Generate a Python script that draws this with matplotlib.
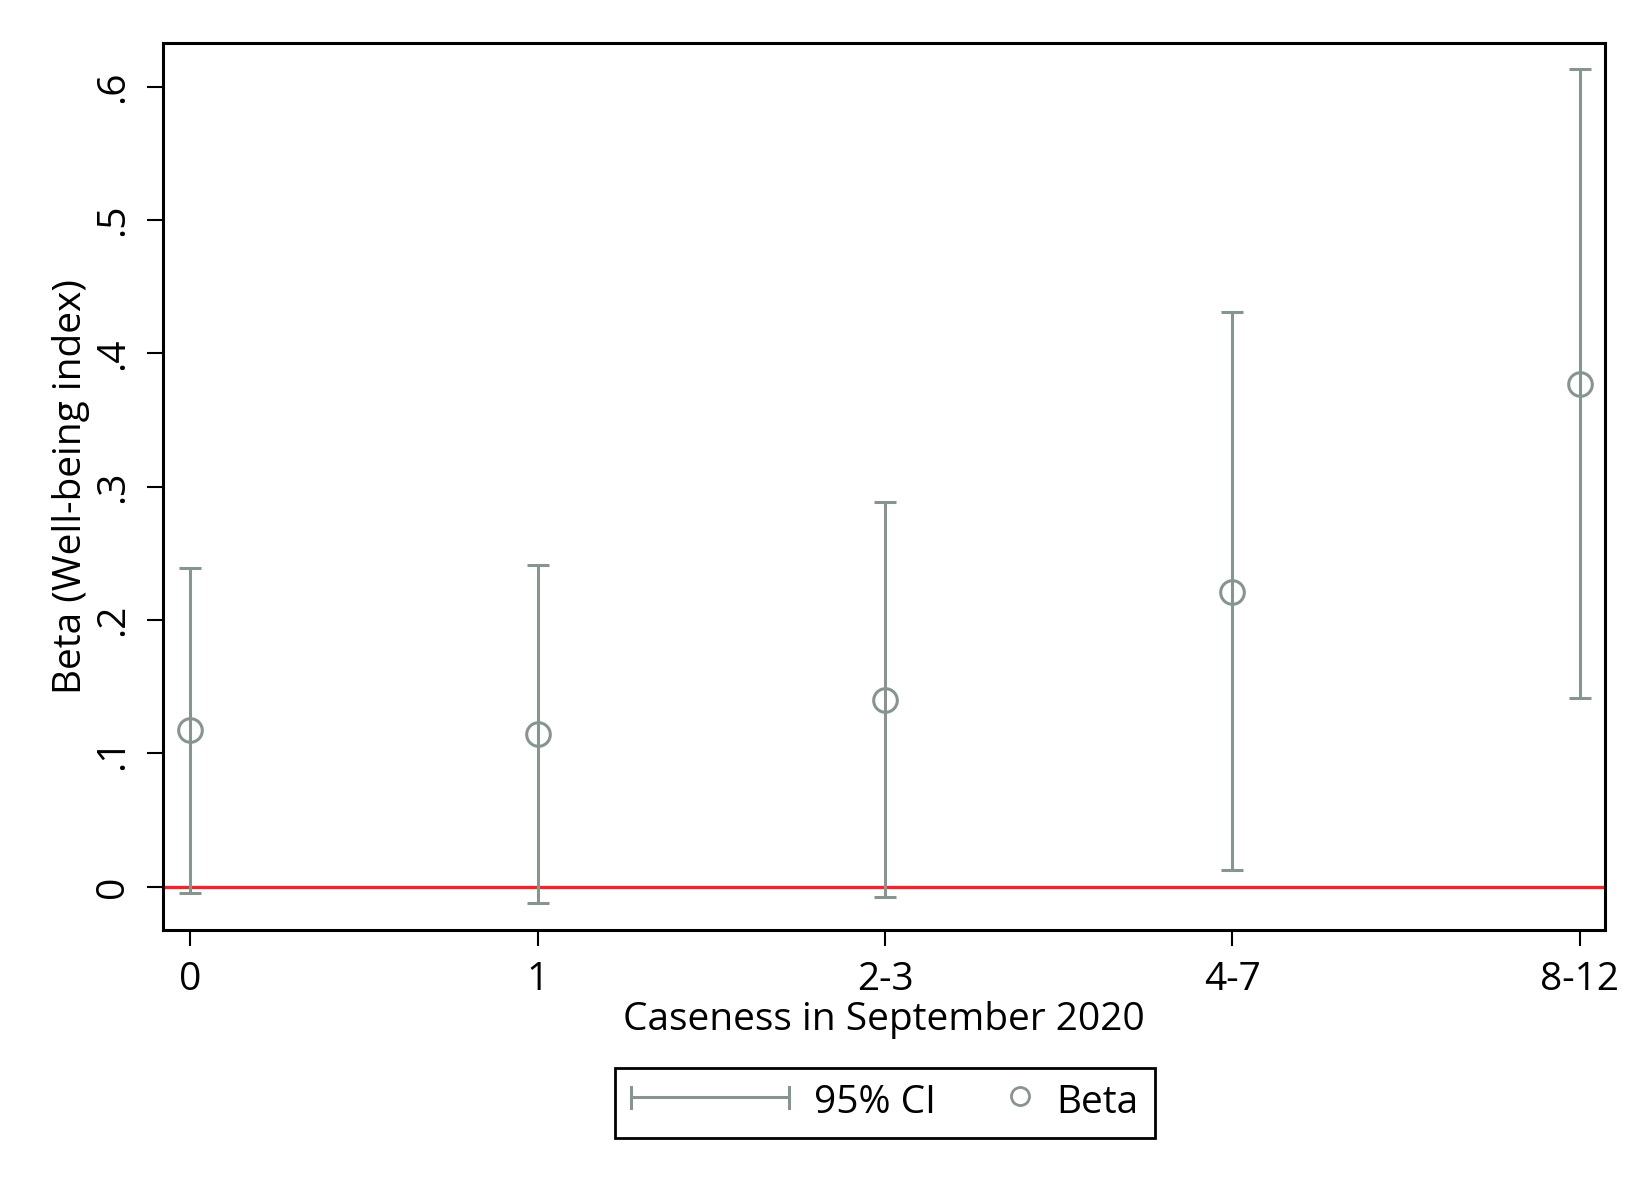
import matplotlib
matplotlib.use("Agg")
import matplotlib.pyplot as plt
from matplotlib.lines import Line2D
from matplotlib.legend_handler import HandlerBase

# ---- data ----
categories = ["0", "1", "2-3", "4-7", "8-12"]
beta = [0.1175, 0.1146, 0.140, 0.2213, 0.377]
ci_low = [-0.0045, -0.0126, -0.008, 0.0126, 0.1415]
ci_high = [0.2393, 0.241, 0.2884, 0.4308, 0.6134]
ytick_vals = [0, 0.1, 0.2, 0.3, 0.4, 0.5, 0.6]
ytick_labels = ["0", ".1", ".2", ".3", ".4", ".5", ".6"]

CI_COLOR = "#87958f"
RED = "#f0242a"
FS = 28

plt.rcParams['font.family'] = ['Open Sans', 'DejaVu Sans']

fig = plt.figure(figsize=(16.5, 12), dpi=100)
ax = fig.add_axes([0.0988, 0.225, 0.9727 - 0.0988, 0.9638 - 0.225])

x = list(range(len(categories)))
yerr = [[b - l for b, l in zip(beta, ci_low)], [h - b for b, h in zip(beta, ci_high)]]

ax.axhline(0, color=RED, lw=2.4, zorder=1)
ax.errorbar(x, beta, yerr=yerr, fmt='o', mfc='none', mec=CI_COLOR, ms=17, mew=2.2,
            ecolor=CI_COLOR, elinewidth=2.2, capsize=8, capthick=2.2, zorder=3)

ax.set_xlim(-0.078, 4.072)
ax.set_ylim(-0.0325, 0.6326)
ax.set_xticks(x, categories)
ax.set_yticks(ytick_vals, ytick_labels)
ax.tick_params(axis='both', labelsize=FS, length=11.5, width=1.5, colors='black')
ax.tick_params(axis='x', pad=11)
ax.tick_params(axis='y', pad=11, labelrotation=90)
for lab in ax.get_yticklabels():
    lab.set_verticalalignment('center')
for s in ax.spines.values():
    s.set_linewidth(2.2)

ax.set_xlabel("Caseness in September 2020", fontsize=FS, labelpad=1)
ax.set_ylabel("Beta (Well-being index)", fontsize=FS, labelpad=3)


class HandlerCI(HandlerBase):
    def create_artists(self, legend, orig_handle, xdescent, ydescent, width, height, fontsize, trans):
        y = height / 2 - ydescent + 0.05 * fontsize
        x0 = -xdescent
        x1 = -xdescent + width
        cap = 0.28 * fontsize
        arts = [Line2D([x0, x1], [y, y]),
                Line2D([x0, x0], [y - cap, y + cap]),
                Line2D([x1, x1], [y - cap, y + cap])]
        for a in arts:
            a.set_color(CI_COLOR)
            a.set_linewidth(2.2)
            a.set_transform(trans)
        return arts


class HandlerBeta(HandlerBase):
    def create_artists(self, legend, orig_handle, xdescent, ydescent, width, height, fontsize, trans):
        y = height / 2 - ydescent + 0.08 * fontsize
        xm = -xdescent + width - 0.3 * fontsize
        m = Line2D([xm], [y], marker='o', ms=13, mfc='none', mec=CI_COLOR, mew=2, ls='none')
        m.set_transform(trans)
        return [m]


ci_proxy = Line2D([], [], color=CI_COLOR, label="95% CI")
beta_proxy = Line2D([], [], marker='o', color=CI_COLOR, ls='none', label="Beta")
leg = fig.legend(handles=[ci_proxy, beta_proxy],
                 handler_map={ci_proxy: HandlerCI(), beta_proxy: HandlerBeta()},
                 loc='center', bbox_to_anchor=(0.5364, 0.0808), ncol=2, fontsize=FS,
                 frameon=True, fancybox=False, edgecolor='black', framealpha=1,
                 handlelength=4.05, handletextpad=0.65, columnspacing=-1.6,
                 borderpad=0.42)
leg.get_frame().set_linewidth(2)

fig.savefig("out.png", dpi=100, facecolor='white')
